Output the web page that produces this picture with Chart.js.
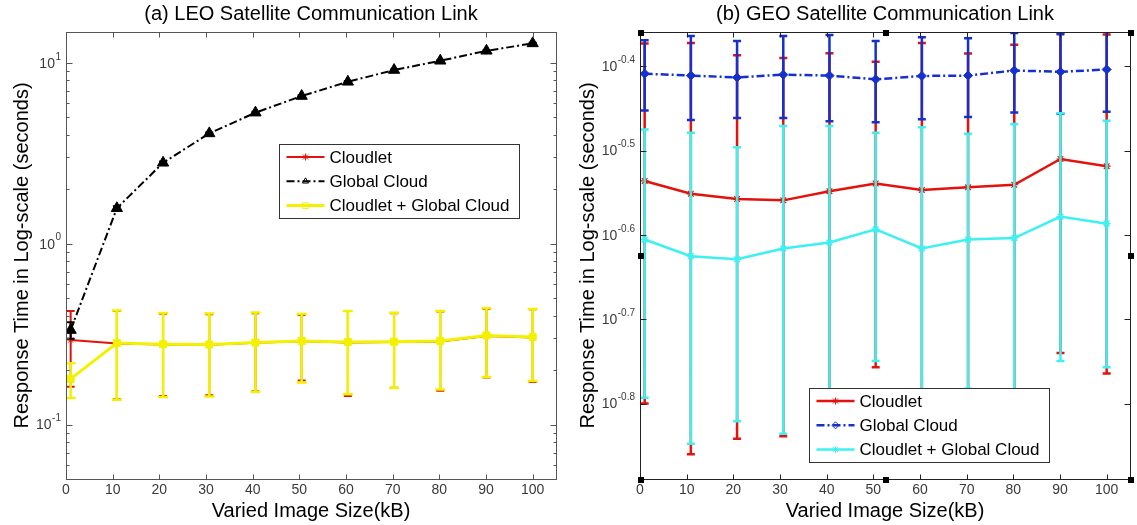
<!DOCTYPE html>
<html>
<head>
<meta charset="utf-8">
<script src="https://cdn.jsdelivr.net/npm/chart.js@4.4.1/dist/chart.umd.min.js"></script>
<style>
  html, body { margin: 0; padding: 0; background: #fff; overflow: hidden; width: 1137px; height: 525px; }
  canvas { position: absolute; top: 0; }
  #leo { left: 0; }
  #geo { left: 570px; }
</style>
</head>
<body>
<canvas id="leo" width="623" height="525"></canvas>
<canvas id="geo" width="632" height="525"></canvas>
<script>
// x positions of the measurements (kB) and x tick labels
const imageSizes = [1, 10.9, 20.8, 30.7, 40.6, 50.5, 60.4, 70.3, 80.2, 90.1, 100];
const xTicks = [0, 10, 20, 30, 40, 50, 60, 70, 80, 90, 100];
const seriesNames = ['Cloudlet', 'Global Cloud', 'Cloudlet + Global Cloud'];

// (a) LEO link, response time in seconds, with error bar half-heights
const leoCloudlet    = [0.293, 0.281, 0.277, 0.276, 0.283, 0.289, 0.284, 0.286, 0.288, 0.309, 0.303];
const leoCloudletErr = [0.131, 0.143, 0.133, 0.131, 0.130, 0.114, 0.140, 0.126, 0.134, 0.127, 0.131];
const leoGlobal      = [0.333, 1.57, 2.80, 4.07, 5.30, 6.55, 7.85, 9.12, 10.26, 11.65, 12.8];
const leoGlobalErr   = [0.035, 0.04, 0.05, 0.05, 0.06, 0.06, 0.07, 0.07, 0.08, 0.08, 0.09];
const leoBoth        = [0.179, 0.282, 0.278, 0.277, 0.284, 0.290, 0.286, 0.287, 0.290, 0.311, 0.305];
const leoBothErr     = [0.039, 0.145, 0.136, 0.134, 0.132, 0.119, 0.139, 0.128, 0.134, 0.128, 0.131];
const leoYExp = [-1, 0, 1];
const leoYRange = [0.05, 14.8];

// (b) GEO link
const geoCloudlet    = [0.291, 0.281, 0.277, 0.276, 0.283, 0.289, 0.284, 0.286, 0.288, 0.309, 0.303];
const geoCloudletErr = [0.1325, 0.143, 0.133, 0.131, 0.1295, 0.114, 0.140, 0.126, 0.134, 0.127, 0.131];
const geoGlobal      = [0.390, 0.388, 0.386, 0.389, 0.388, 0.384, 0.3876, 0.388, 0.3934, 0.392, 0.3945];
const geoGlobalErr   = [0.0373, 0.0444, 0.0404, 0.0434, 0.0455, 0.0424, 0.0432, 0.0416, 0.0425, 0.0424, 0.043];
const geoBoth        = [0.248, 0.237, 0.235, 0.242, 0.246, 0.255, 0.242, 0.248, 0.249, 0.264, 0.259];
const geoBothErr     = [0.087, 0.095, 0.084, 0.096, 0.092, 0.077, 0.095, 0.083, 0.091, 0.086, 0.084];
const geoYExp = [-0.8, -0.7, -0.6, -0.5, -0.4];
const geoYRange = [0.129, 0.437];

const FONT = "'Liberation Sans', Arial, sans-serif";
const RED = '#e3120b', YELLOW = '#f2f200', BLUE = '#1530cc', CYAN = '#3ff0f0';
const DASHDOT = [8, 3, 2, 3];

function pts(ys) {
  return ys.map((v, i) => ({ x: imageSizes[i], y: v }));
}

function marker(ctx, style, r, x, y) {
  if (Chart.helpers && Chart.helpers.drawPoint) {
    Chart.helpers.drawPoint(ctx, { pointStyle: style, radius: r, rotation: 0, borderWidth: 1 }, x, y);
  }
}

// MATLAB-like decorations: error bars, boxed axes with inward ticks, 10^x labels, legend
const matlabAxes = {
  id: 'matlabAxes',
  beforeDatasetDraw(chart, args) {
    const ds = chart.data.datasets[args.index];
    if (!ds.errors) return;
    const { ctx, chartArea: a, scales: { x, y } } = chart;
    ctx.save();
    ctx.beginPath();
    ctx.rect(a.left, a.top, a.right - a.left, a.bottom - a.top);
    ctx.clip();
    ctx.strokeStyle = ds.borderColor;
    ctx.lineWidth = ds.errWidth;
    ctx.setLineDash([]);
    ctx.beginPath();
    ds.data.forEach((p, i) => {
      const e = ds.errors[i];
      const px = x.getPixelForValue(p.x);
      const top = y.getPixelForValue(p.y + e);
      const bot = y.getPixelForValue(Math.max(p.y - e, 1e-4));
      ctx.moveTo(px, top); ctx.lineTo(px, bot);
      ctx.moveTo(px - ds.cap, top); ctx.lineTo(px + ds.cap, top);
      ctx.moveTo(px - ds.cap, bot); ctx.lineTo(px + ds.cap, bot);
    });
    ctx.stroke();
    ctx.restore();
  },
  afterDraw(chart, args, o) {
    const { ctx, chartArea: a, scales: { x, y } } = chart;
    const L = Math.round(a.left) + 0.5, R = Math.round(a.right) + 0.5;
    const T = Math.round(a.top) + 0.5, B = Math.round(a.bottom) + 0.5;
    ctx.save();
    ctx.setLineDash([]);

    // legend
    const g = o.legend;
    const lx = Math.round(a.left + g.x) + 0.5, ly = Math.round(a.top + g.y) + 0.5;
    ctx.fillStyle = '#fff';
    ctx.fillRect(lx, ly, g.w, g.h);
    ctx.strokeStyle = '#333';
    ctx.lineWidth = 1;
    ctx.strokeRect(lx, ly, g.w, g.h);
    chart.data.datasets.forEach((ds, i) => {
      const cy = ly + 12.5 + i * 24.3;
      ctx.strokeStyle = ds.borderColor;
      ctx.lineWidth = ds.borderWidth;
      ctx.setLineDash(ds.borderDash || []);
      ctx.beginPath();
      ctx.moveTo(lx + 7, cy); ctx.lineTo(lx + 45, cy);
      ctx.stroke();
      ctx.setLineDash([]);
      ctx.fillStyle = ds.legendFill;
      ctx.lineWidth = 1;
      marker(ctx, ds.pointStyle, ds.legendRadius, lx + 26, cy);
      ctx.fillStyle = '#000';
      ctx.font = '17px ' + FONT;
      ctx.textAlign = 'left';
      ctx.textBaseline = 'middle';
      ctx.fillText(ds.label, lx + 50, cy + 1);
    });

    // box
    ctx.strokeStyle = o.axisColor;
    ctx.lineWidth = 1;
    ctx.strokeRect(L, T, R - L, B - T);

    // inward ticks
    ctx.beginPath();
    xTicks.forEach(v => {
      const px = Math.round(x.getPixelForValue(v)) + 0.5;
      ctx.moveTo(px, B); ctx.lineTo(px, B - 5);
      ctx.moveTo(px, T); ctx.lineTo(px, T + 5);
    });
    o.yExp.forEach(e => {
      const py = Math.round(y.getPixelForValue(Math.pow(10, e))) + 0.5;
      ctx.moveTo(L, py); ctx.lineTo(L + 6, py);
      ctx.moveTo(R, py); ctx.lineTo(R - 6, py);
    });
    if (o.minor) {
      for (let d = -2; d <= 1; d++) {
        for (let m = 2; m <= 9; m++) {
          const v = m * Math.pow(10, d);
          if (v <= y.min || v >= y.max) continue;
          const py = Math.round(y.getPixelForValue(v)) + 0.5;
          ctx.moveTo(L, py); ctx.lineTo(L + 3, py);
          ctx.moveTo(R, py); ctx.lineTo(R - 3, py);
        }
      }
    }
    ctx.stroke();

    // y tick labels as 10 with superscript exponent
    ctx.fillStyle = '#3a3a3a';
    ctx.textAlign = 'right';
    ctx.textBaseline = 'middle';
    o.yExp.forEach(e => {
      const py = y.getPixelForValue(Math.pow(10, e));
      const sup = String(e);
      ctx.font = '10px ' + FONT;
      const sw = ctx.measureText(sup).width;
      const xr = a.left - 5;
      ctx.fillText(sup, xr, py - 6);
      ctx.font = '14px ' + FONT;
      ctx.fillText('10', xr - sw - 0.5, py + 1);
    });

    // selection handles on the second axes
    if (o.handles) {
      ctx.fillStyle = '#000';
      const mx = (L + R) / 2, my = (T + B) / 2;
      [[L, T], [mx, T], [R, T], [L, my], [R, my], [L, B], [mx, B], [R, B]].forEach(([hx, hy]) => {
        ctx.fillRect(Math.round(hx - 3), Math.round(hy - 3), 6, 6);
      });
    }
    ctx.restore();
  }
};

function makeChart(id, cfg) {
  return new Chart(document.getElementById(id), {
    type: 'line',
    data: { datasets: cfg.datasets },
    options: {
      responsive: false,
      animation: false,
      events: [],
      devicePixelRatio: 1,
      layout: { padding: { left: 0, right: cfg.padRight, top: 0, bottom: 0 } },
      plugins: {
        legend: { display: false },
        tooltip: { enabled: false },
        title: {
          display: true,
          fullSize: false,
          text: cfg.title,
          color: '#000',
          font: { family: FONT, size: 20, weight: 'normal' },
          padding: { top: 2, bottom: 6 }
        },
        matlabAxes: {
          yExp: cfg.yExp,
          minor: cfg.minor,
          legend: cfg.legend,
          handles: cfg.handles,
          axisColor: cfg.axisColor
        }
      },
      scales: {
        x: {
          type: 'linear',
          min: 0,
          max: 105,
          afterBuildTicks: s => { s.ticks = xTicks.map(v => ({ value: v })); },
          afterFit: s => { s.height = 46; },
          grid: { display: false, drawTicks: false },
          border: { display: false },
          ticks: { color: '#3a3a3a', padding: 3, font: { family: FONT, size: 14 }, maxRotation: 0 },
          title: {
            display: true,
            text: 'Varied Image Size(kB)',
            color: '#000',
            font: { family: FONT, size: 20 },
            padding: { top: 0, bottom: 2 }
          }
        },
        y: {
          type: 'logarithmic',
          min: cfg.yRange[0],
          max: cfg.yRange[1],
          afterFit: s => { s.width = cfg.yWidth; },
          grid: { display: false, drawTicks: false },
          border: { display: false },
          ticks: { display: false },
          title: {
            display: true,
            text: 'Response Time in Log-scale (seconds)',
            color: '#000',
            font: { family: FONT, size: 20 },
            padding: { top: cfg.yTitlePad, bottom: 0 }
          }
        }
      }
    },
    plugins: [matlabAxes]
  });
}

makeChart('leo', {
  title: '(a) LEO Satellite Communication Link',
  yRange: leoYRange,
  yExp: leoYExp,
  minor: true,
  yWidth: 66,
  yTitlePad: 10,
  padRight: 67,
  axisColor: '#555',
  legend: { x: 213, y: 112, w: 240, h: 74 },
  datasets: [
    { label: seriesNames[0], data: pts(leoCloudlet), errors: leoCloudletErr, order: 3,
      borderColor: RED, backgroundColor: RED, borderWidth: 2, errWidth: 2, cap: 4,
      pointStyle: 'star', pointRadius: 3.5, pointBorderWidth: 1, legendFill: RED, legendRadius: 3.5 },
    { label: seriesNames[1], data: pts(leoGlobal), errors: leoGlobalErr, order: 2,
      borderColor: '#000', backgroundColor: '#000', borderWidth: 2, borderDash: DASHDOT, errWidth: 2, cap: 4,
      pointStyle: 'triangle', pointRadius: 6.5, pointBorderWidth: 1, legendFill: 'rgba(0,0,0,0)', legendRadius: 3.5 },
    { label: seriesNames[2], data: pts(leoBoth), errors: leoBothErr, order: 1,
      borderColor: YELLOW, backgroundColor: YELLOW, borderWidth: 3, errWidth: 2.5, cap: 5,
      pointStyle: 'rect', pointRadius: 5, pointBorderWidth: 1, legendFill: 'rgba(0,0,0,0)', legendRadius: 4 }
  ]
});

makeChart('geo', {
  title: '(b) GEO Satellite Communication Link',
  yRange: geoYRange,
  yExp: geoYExp,
  minor: false,
  yWidth: 70,
  yTitlePad: 6,
  padRight: 72,
  axisColor: '#222',
  handles: true,
  legend: { x: 169, y: 356, w: 240, h: 74 },
  datasets: [
    { label: seriesNames[0], data: pts(geoCloudlet), errors: geoCloudletErr, order: 3,
      borderColor: RED, backgroundColor: RED, borderWidth: 2.5, errWidth: 2.5, cap: 4,
      pointStyle: 'star', pointRadius: 4, pointBorderWidth: 1.2, legendFill: RED, legendRadius: 3.5 },
    { label: seriesNames[1], data: pts(geoGlobal), errors: geoGlobalErr, order: 2,
      borderColor: BLUE, backgroundColor: BLUE, borderWidth: 2.5, borderDash: DASHDOT, errWidth: 2.5, cap: 4,
      pointStyle: 'rectRot', pointRadius: 4.5, pointBorderWidth: 1, legendFill: 'rgba(0,0,0,0)', legendRadius: 3.5 },
    { label: seriesNames[2], data: pts(geoBoth), errors: geoBothErr, order: 1,
      borderColor: CYAN, backgroundColor: CYAN, borderWidth: 2.5, errWidth: 2.5, cap: 4,
      pointStyle: 'star', pointRadius: 4, pointBorderWidth: 1.5, legendFill: CYAN, legendRadius: 3.5 }
  ]
});
</script>
</body>
</html>
